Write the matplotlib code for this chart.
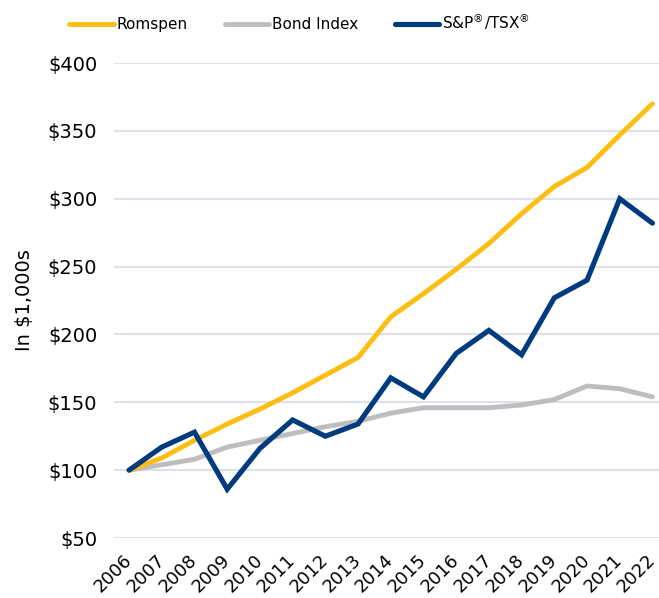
import matplotlib
matplotlib.use("Agg")
import matplotlib.pyplot as plt

years = list(range(2006, 2023))
romspen = [100, 109, 122, 134, 145, 157, 170, 183, 213, 230, 248, 267, 289, 309, 323, 347, 370]
bond_index = [100, 104, 108, 117, 122, 127, 132, 136, 142, 146, 146, 146, 148, 152, 162, 160, 154]
sp_tsx = [100, 117, 128, 86, 116, 137, 125, 134, 168, 154, 186, 203, 185, 227, 240, 300, 282]

y_ticks = [50, 100, 150, 200, 250, 300, 350, 400]

plt.rcParams['font.family'] = ['DejaVu Sans']

fig = plt.figure(figsize=(6.59, 5.98), dpi=100)
ax = fig.add_axes([0.173, 0.1003, 0.827, 0.7943])

ax.plot(years, romspen, color='#FDBE14', lw=3.5, label='Romspen',
        solid_capstyle='round', solid_joinstyle='miter', clip_on=False, zorder=3)
ax.plot(years, bond_index, color='#BEBEBE', lw=3.5, label='Bond Index',
        solid_capstyle='round', solid_joinstyle='miter', clip_on=False, zorder=2)
ax.plot(years, sp_tsx, color='#003B7F', lw=3.7, label='S&P$^{®}$/TSX$^{®}$',
        solid_capstyle='round', solid_joinstyle='miter', clip_on=False, zorder=4)

ax.set_xlim(2005.54, 2022.2)
ax.set_ylim(50, 400)
ax.set_yticks(y_ticks)
ax.set_yticklabels(['${}'.format(v) for v in y_ticks], fontsize=14)
ax.set_xticks(years)
ax.set_xticklabels([str(y) for y in years], fontsize=13, rotation=45,
                   ha='right', va='center', rotation_mode='anchor')
ax.tick_params(length=0, pad=12, axis='y')
ax.tick_params(length=0, pad=14, axis='x')
ax.grid(axis='y', color='#DDE2E8', lw=1.5)
ax.set_axisbelow(True)
for s in ax.spines.values():
    s.set_visible(False)

ax.set_ylabel('In $1,000s', fontsize=14, labelpad=10)

fig.legend(loc='center', bbox_to_anchor=(0.455, 0.963), ncol=3, frameon=False,
           fontsize=11, handlelength=2.9, handletextpad=0.2, columnspacing=2.4)

fig.savefig('out.png', dpi=100)
